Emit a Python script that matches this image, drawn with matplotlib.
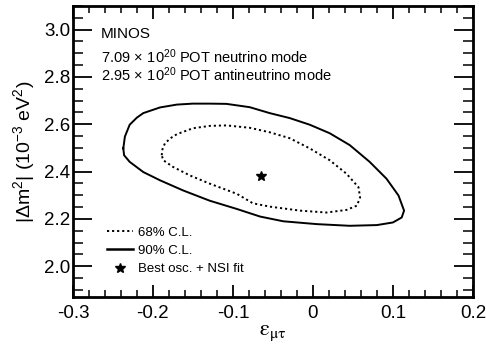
import numpy as np
import matplotlib
matplotlib.use("Agg")
import matplotlib.pyplot as plt
from matplotlib.lines import Line2D
from matplotlib.ticker import MultipleLocator

plt.rcParams['font.family'] = ['Liberation Sans', 'DejaVu Sans']
plt.rcParams['mathtext.fontset'] = 'custom'
plt.rcParams['mathtext.rm'] = 'Liberation Sans'
plt.rcParams['mathtext.it'] = 'Liberation Sans:italic'

##### DATA #####

# 90% C.L. contour (eps_mutau, |dm2| in 1e-3 eV^2)
c90_eps = [-0.237, -0.235, -0.229, -0.220, -0.212, -0.191, -0.170, -0.150, -0.129,
           -0.108, -0.079, -0.054, -0.029, -0.004, 0.021, 0.046, 0.071, 0.092,
           0.107, 0.114, 0.111, 0.100, 0.080, 0.046, 0.005, -0.037, -0.066,
           -0.095, -0.129, -0.162, -0.191, -0.212, -0.229, -0.236, -0.237]
c90_dm2 = [2.498, 2.548, 2.598, 2.628, 2.647, 2.671, 2.683, 2.687, 2.687,
           2.686, 2.672, 2.647, 2.626, 2.598, 2.562, 2.512, 2.441, 2.370,
           2.299, 2.235, 2.206, 2.185, 2.174, 2.171, 2.178, 2.190, 2.210,
           2.242, 2.277, 2.320, 2.363, 2.398, 2.441, 2.469, 2.498]

# 68% C.L. contour
c68_eps = [-0.189, -0.188, -0.185, -0.178, -0.170, -0.150, -0.129, -0.108, -0.079,
           -0.054, -0.029, -0.004, 0.021, 0.042, 0.057, 0.059, 0.055, 0.042,
           0.017, -0.016, -0.054, -0.075, -0.095, -0.129, -0.154, -0.175,
           -0.187, -0.189]
c68_dm2 = [2.469, 2.495, 2.519, 2.541, 2.558, 2.583, 2.593, 2.595, 2.585,
           2.566, 2.541, 2.498, 2.448, 2.391, 2.334, 2.291, 2.256, 2.238,
           2.227, 2.235, 2.252, 2.266, 2.306, 2.349, 2.384, 2.420,
           2.448, 2.469]

best_eps = [-0.065]
best_dm2 = [2.381]

##### PLOT #####

fig = plt.figure(figsize=(4.86, 3.45), dpi=100)
ax = fig.add_axes([0.150, 0.139, 0.823, 0.844])

ax.plot(c90_eps, c90_dm2, color='black', lw=1.4, solid_joinstyle='round')
ax.plot(c68_eps, c68_dm2, color='black', lw=1.4, linestyle=(0, (1.1, 1.5)))
ax.plot(best_eps, best_dm2, marker='*', color='black', ms=7.5, ls='none')

ax.set_xlim(-0.3, 0.2)
ax.set_ylim(1.87, 3.1)
ax.xaxis.set_major_locator(MultipleLocator(0.1))
ax.xaxis.set_minor_locator(MultipleLocator(0.02))
ax.yaxis.set_major_locator(MultipleLocator(0.2))
ax.yaxis.set_minor_locator(MultipleLocator(0.05))
ax.xaxis.set_major_formatter(plt.FuncFormatter(lambda v, p: '0' if abs(v) < 1e-9 else '%g' % v))
ax.yaxis.set_major_formatter(plt.FuncFormatter(lambda v, p: '%.1f' % v))

ax.tick_params(axis='x', which='major', direction='in', length=9, width=1.3,
               top=True, labelsize=13.5, pad=6)
ax.tick_params(axis='x', which='minor', direction='in', length=5, width=1.1, top=True)
ax.tick_params(axis='y', which='major', direction='in', length=14, width=1.3,
               right=True, labelsize=13.5, pad=2)
ax.tick_params(axis='y', which='minor', direction='in', length=7, width=1.1, right=True)
for s in ax.spines.values():
    s.set_linewidth(2.0)

ax.set_xlabel(r'$\mathrm{\varepsilon_{\mu\tau}}$', fontsize=16, math_fontfamily='stix', labelpad=0)
ax.set_ylabel(r'|$\Delta$m$^2$| (10$^{-3}$ eV$^2$)', fontsize=14, labelpad=5)

ax.text(0.07, 0.905, 'MINOS', transform=ax.transAxes, fontsize=11, va='center')
ax.text(0.07, 0.827, r'7.09$\,\times\,$10$^{20}$ POT neutrino mode', transform=ax.transAxes,
        fontsize=10.5, va='center')
ax.text(0.07, 0.762, r'2.95$\,\times\,$10$^{20}$ POT antineutrino mode', transform=ax.transAxes,
        fontsize=10.5, va='center')

handles = [Line2D([], [], color='black', lw=1.4, linestyle=(0, (1.1, 1.5))),
           Line2D([], [], color='black', lw=1.8),
           Line2D([], [], color='black', marker='*', ms=7.5, ls='none')]
labels = ['68% C.L.', '90% C.L.', 'Best osc. + NSI fit']
ax.legend(handles, labels, loc='lower left', bbox_to_anchor=(0.085, 0.075), frameon=False,
          fontsize=9.5, handlelength=2.0, handletextpad=0.35, labelspacing=0.45,
          borderpad=0, borderaxespad=0)

fig.savefig('out.png', dpi=100)
